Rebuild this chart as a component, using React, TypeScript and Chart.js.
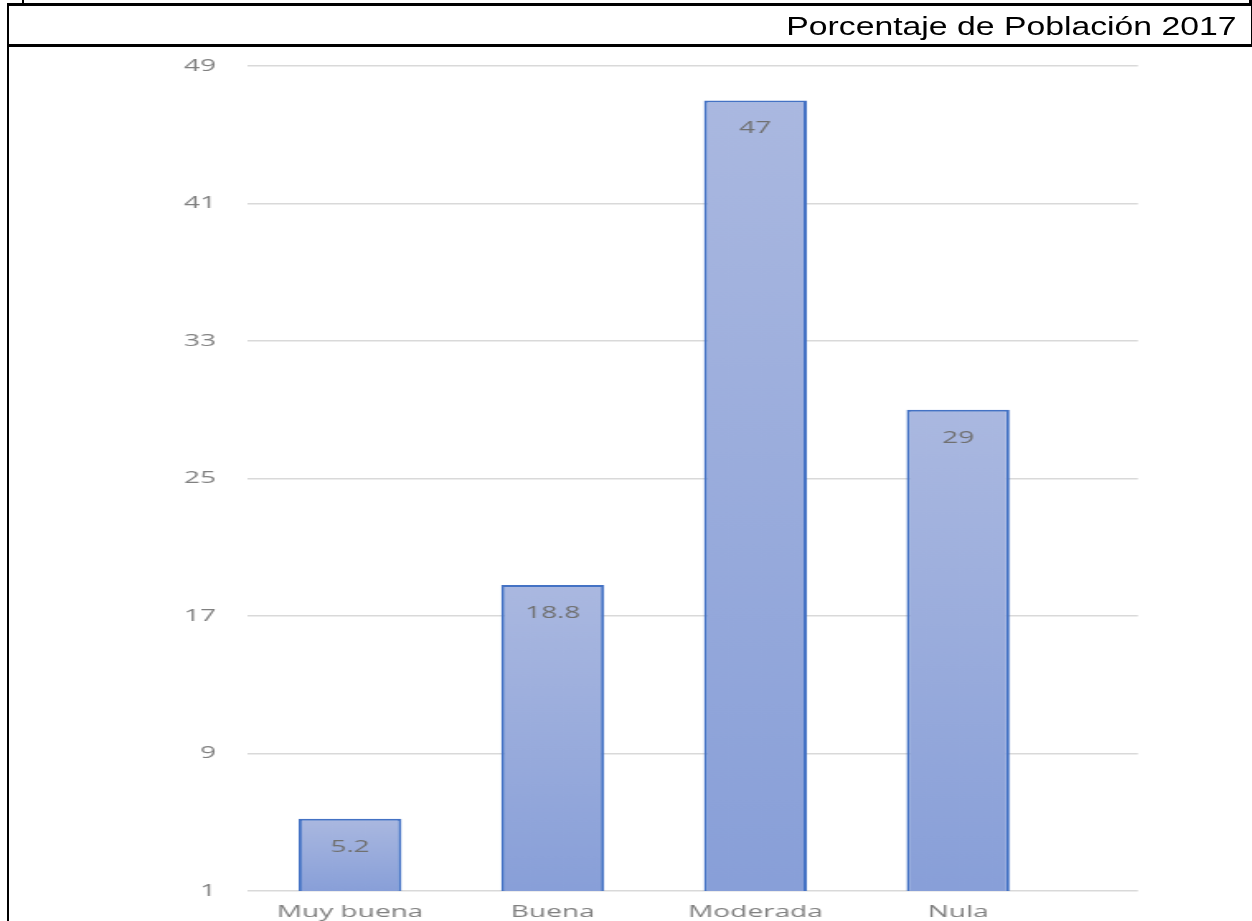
import React, { useEffect, useRef } from "react";
import { Chart, registerables } from "chart.js";

Chart.register(...registerables);

const categories = ["Muy buena", "Buena", "Moderada", "Nula"];
const values = [5.2, 18.8, 47, 29];
const yTicks = [1, 9, 17, 25, 33, 41, 49];
const titleText = "Porcentaje de Población 2017";

// horizontal stretch of the embedded chart picture
const S = 1.65;
const CW = Math.round(1252 / S);
const CH = 940;

export default function App() {
  const ref = useRef<HTMLCanvasElement>(null);

  useEffect(() => {
    const canvas = ref.current!;
    const left = 247 / S;
    const right = 1138 / S;
    const firstCenter = 350 / S;
    const spacing = 202.7 / S;
    const xMin = -(firstCenter - left) / spacing;
    const xMax = xMin + (right - left) / spacing;
    const font = { family: "'Open Sans', 'Noto Sans', sans-serif", size: 17 };

    const labelPlugin = {
      id: "barLabels",
      afterDatasetsDraw(chart: any) {
        const ctx = chart.ctx;
        const meta = chart.getDatasetMeta(0);
        ctx.save();
        ctx.font = `17px 'Open Sans', 'Noto Sans', sans-serif`;
        ctx.fillStyle = "#707070";
        ctx.textAlign = "center";
        ctx.textBaseline = "middle";
        meta.data.forEach((el: any, i: number) => {
          ctx.fillText(String(values[i]), el.x, el.y + 28);
        });
        ctx.restore();
      },
    };

    const chart = new Chart(canvas, {
      type: "bar",
      data: {
        datasets: [
          {
            data: values.map((v, i) => ({ x: i, y: v })),
            backgroundColor: (c: any) => {
              const ch = c.chart;
              const ys = ch.scales && ch.scales.y;
              if (!ys || c.type !== "data") return "#98AADB";
              const top = ys.getPixelForValue(values[c.dataIndex]);
              const bottom = ys.getPixelForValue(yTicks[0]);
              if (!isFinite(top) || !isFinite(bottom) || top === bottom) return "#98AADB";
              const g = ch.ctx.createLinearGradient(0, top, 0, bottom);
              g.addColorStop(0, "#AAB8E0");
              g.addColorStop(1, "#889FD8");
              return g;
            },
            borderColor: "#4472C4",
            borderWidth: 2,
            borderSkipped: false,
            barPercentage: 0.508,
            categoryPercentage: 1,
          } as any,
        ],
      },
      options: {
        animation: false,
        responsive: false,
        layout: { padding: { left: 0, right: CW - right, top: 66, bottom: 0 } },
        plugins: { legend: { display: false }, tooltip: { enabled: false } },
        scales: {
          x: {
            type: "linear",
            min: xMin,
            max: xMax,
            offset: false,
            grid: { display: false, offset: false },
            border: { display: false },
            afterBuildTicks: (s: any) => {
              s.ticks = categories.map((_, i) => ({ value: i }));
            },
            afterFit: (s: any) => {
              s.height = CH - 891;
            },
            ticks: {
              autoSkip: false,
              maxRotation: 0,
              padding: 3,
              color: "#808080",
              font,
              callback: (v: any) => categories[Math.round(Number(v))] ?? "",
            },
          },
          y: {
            type: "linear",
            min: yTicks[0],
            max: yTicks[yTicks.length - 1],
            beginAtZero: false,
            afterBuildTicks: (s: any) => {
              s.ticks = yTicks.map((v) => ({ value: v }));
            },
            afterFit: (s: any) => {
              s.width = left;
            },
            border: { display: false },
            grid: { color: "#d9d9d9", lineWidth: 1.5, drawTicks: false },
            ticks: { padding: left - 216 / S, color: "#808080", font },
          },
        },
      } as any,
      plugins: [labelPlugin],
    });
    return () => chart.destroy();
  }, []);

  const blk = (l: number, t: number, w: number, h: number) => (
    <div style={{ position: "absolute", left: l, top: t, width: w, height: h, background: "#000" }} />
  );

  return (
    <div
      style={{
        position: "fixed",
        left: 0,
        top: 0,
        width: 1252,
        height: 921,
        overflow: "hidden",
        background: "#fff",
      }}
    >
      <div style={{ position: "absolute", left: 0, top: 0, transform: `scaleX(${S})`, transformOrigin: "0 0" }}>
        <canvas ref={ref} width={CW} height={CH} style={{ display: "block", width: CW, height: CH }} />
      </div>
      <div
        style={{
          position: "absolute",
          right: 15,
          top: 14,
          fontFamily: "'Liberation Sans', Arial, sans-serif",
          fontSize: 25,
          lineHeight: "25px",
          color: "#000",
          whiteSpace: "nowrap",
          transform: "scaleX(1.35)",
          transformOrigin: "right center",
        }}
      >
        {titleText}
      </div>
      {blk(22, 0, 2, 4)}
      {blk(7, 3, 1245, 3)}
      {blk(1249, 0, 3, 5)}
      {blk(1251, 5, 1, 40)}
      {blk(7, 44, 1245, 3)}
      {blk(7, 5, 2, 916)}
    </div>
  );
}
